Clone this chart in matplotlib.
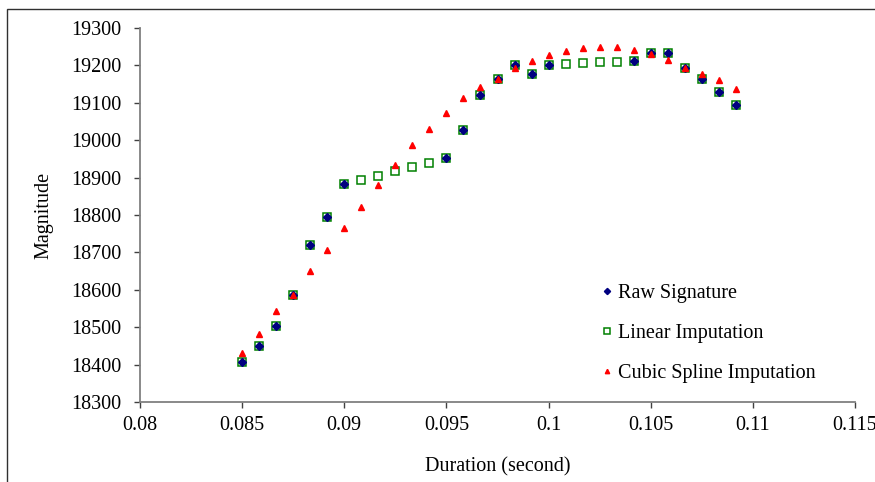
import numpy as np
import matplotlib
matplotlib.use("Agg")
import matplotlib.pyplot as plt
from matplotlib.patches import Rectangle

plt.rcParams['font.family'] = ['Liberation Serif', 'DejaVu Serif']

# sample index k -> duration = 0.085 + k/1200
idx = list(range(30))
duration = [0.085 + k / 1200 for k in idx]

raw_idx = [0, 1, 2, 3, 4, 5, 6, 12, 13, 14, 15, 16, 17, 18, 23, 24, 25, 26, 27, 28, 29]
raw_vals = [18407, 18450, 18502, 18586, 18719, 18795, 18882, 18952, 19026, 19121,
            19164, 19201, 19177, 19201, 19212, 19233, 19233, 19193, 19164, 19130, 19093]

linear_vals = [18407, 18450, 18502, 18586, 18719, 18795, 18882, 18894, 18905, 18917,
               18929, 18940, 18952, 19026, 19121, 19164, 19201, 19177, 19201, 19203,
               19206, 19208, 19210, 19212, 19233, 19233, 19193, 19164, 19130, 19093]

cubic_vals = [18430, 18483, 18543, 18586, 18649, 18707, 18766, 18822, 18880, 18935,
              18986, 19031, 19073, 19112, 19143, 19164, 19193, 19212, 19228, 19239,
              19247, 19250, 19248, 19241, 19231, 19214, 19192, 19178, 19160, 19137]

raw_x = [duration[k] for k in raw_idx]

FS = 14.5

fig = plt.figure(figsize=(8.75, 4.82), dpi=100)
ax = fig.add_axes([140 / 875, 1 - 402 / 482, 715 / 875, 374 / 482])

ax.plot(raw_x, raw_vals, linestyle='none', marker='D', color='#000080', markersize=4.2,
        label='Raw Signature', zorder=3)
ax.plot(duration, linear_vals, linestyle='none', marker='s', markerfacecolor='none',
        markeredgecolor='#008000', markeredgewidth=1.1, markersize=6.0,
        label='Linear Imputation', zorder=2)
ax.plot(duration, cubic_vals, linestyle='none', marker='^', color='#ff0000', markersize=4.2,
        label='Cubic Spline Imputation', zorder=4)

ax.set_xlim(0.08, 0.115)
ax.set_ylim(18300, 19300)
ax.set_xticks([0.08, 0.085, 0.09, 0.095, 0.1, 0.105, 0.11, 0.115])
ax.set_xticklabels(['0.08', '0.085', '0.09', '0.095', '0.1', '0.105', '0.11', '0.115'])
ax.set_yticks(np.arange(18300, 19301, 100))

for s in ['top', 'right']:
    ax.spines[s].set_visible(False)
for s in ['left', 'bottom']:
    ax.spines[s].set_color('#808080')
    ax.spines[s].set_linewidth(1.3)

ax.tick_params(axis='both', direction='out', length=4.3, width=1, color='#404040',
               labelsize=FS)
ax.tick_params(axis='y', pad=9)
ax.tick_params(axis='x', pad=6)

ax.set_xlabel('Duration (second)', fontsize=FS, labelpad=16)
ax.set_ylabel('Magnitude', fontsize=FS, labelpad=13)

leg = ax.legend(loc='lower left', bbox_to_anchor=((600 - 140) / 715, 0.05),
                frameon=False, fontsize=FS, handlelength=0.7, handletextpad=0.2,
                labelspacing=1.05, markerscale=0.75, borderaxespad=0, borderpad=0)

fig.patches.append(Rectangle((7 / 875, -0.05), 1.1, 1 - 9 / 482 + 0.05,
                             transform=fig.transFigure, fill=False,
                             edgecolor='#303030', linewidth=1.0))

fig.savefig('out.png', dpi=100)
